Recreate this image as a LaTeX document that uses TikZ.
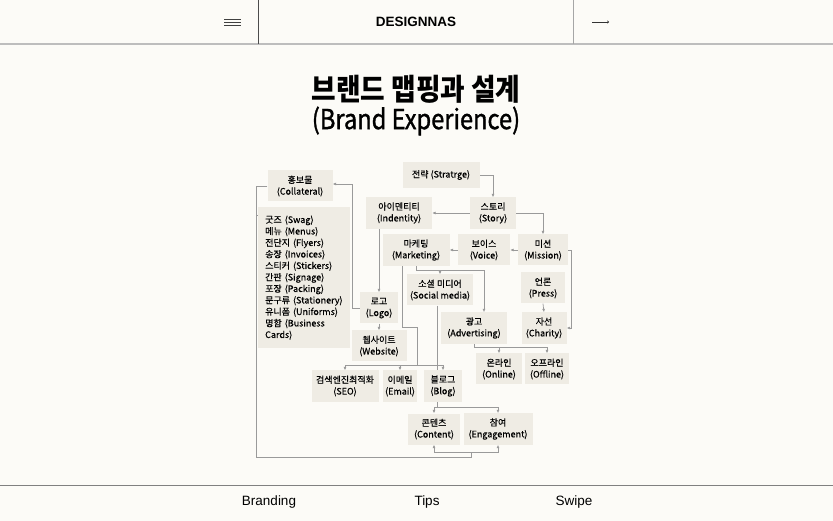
\documentclass[tikz,border=0pt]{standalone}
\usepackage{fontspec}
\setmainfont{Liberation Sans}
\newfontfamily\krfont[FakeBold=0.35]{Noto Sans CJK KR}
\newfontfamily\titlefont[FakeStretch=0.89]{Noto Sans CJK KR}
\newfontfamily\subfont[FakeStretch=0.86,FakeBold=1.2]{Noto Sans CJK KR}
\usetikzlibrary{arrows.meta,positioning,backgrounds}
\definecolor{colorpage}{HTML}{FCFBF7}
\definecolor{colorbox}{HTML}{EFECE4}
\definecolor{colorline}{HTML}{9A9A9A}
\definecolor{colorrule}{HTML}{BDBDBD}
\tikzset{mapbox/.style={fill=colorbox, align=center, inner xsep=2pt, inner ysep=5pt,
  minimum height=31pt, font=\krfont\fontsize{9}{11.5}\selectfont}}
\tikzset{listbox/.style={fill=colorbox, align=left, text width=78pt, inner xsep=7pt,
  inner ysep=6pt, minimum height=141pt, anchor=north west, font=\krfont\fontsize{9}{11.5}\selectfont}}
\tikzset{
  edgemap/.style={colorline, line width=0.7pt, -{Latex[length=3.4pt,width=3pt]}},
  linemap/.style={colorline, line width=0.7pt},
  footlabel/.style={font=\fontsize{13.5}{14}\selectfont}
}

\begin{document}
\begin{tikzpicture}[x=1pt,y=-1pt,inner sep=1pt]
\useasboundingbox (0,0) rectangle (833,521);

% header
\node[font=\bfseries\fontsize{13.5}{14}\selectfont] (brand) at (416,22) {DESIGNNAS};
\draw[colorrule, line width=1.5pt] (0,44) -- (833,44);
\draw[black!70, line width=0.8pt] (258,0) -- (258,44);
\draw[black!35, line width=1pt] (573,0) -- (573,44);
\foreach \y in {19.5,22.5,25.5}
  \draw[black!75, line width=0.9pt] (224,\y) -- (241,\y);
\draw[black!80, line width=0.6pt, -{To[length=2pt,width=3pt]}] (592,22) -- (609,22);

% title
\node[font=\titlefont\bfseries\fontsize{30}{30}\selectfont] (title) at (416,89) {브랜드 맵핑과 설계};
\node[font=\subfont\fontsize{27.5}{28}\selectfont] (subtitle) at (416,121) {(Brand Experience)};

% map
\node[mapbox, minimum width=65pt] (collateral) at (300,186) {홍보물\\(Collateral)};
\node[listbox] (swag) at (258,207) {굿즈 (Swag)\\메뉴 (Menus)\\전단지 (Flyers)\\송장 (Invoices)\\
  스티커 (Stickers)\\간판 (Signage)\\포장 (Packing)\\문구류 (Stationery)\\유니폼 (Uniforms)\\
  명함 (Business\\Cards)};

\node[mapbox, minimum width=77pt, minimum height=26pt] (strategy) at (441,175) {전략 (Stratrge)};
\node[mapbox, minimum width=46pt] (story) at (493,213) {스토리\\(Story)};
\node[mapbox, minimum width=66pt] (identity) at (399,213) {아이덴티티\\(Indentity)};
\node[mapbox, minimum width=67pt] (marketing) at (416,250) {마케팅\\(Marketing)};
\node[mapbox, minimum width=52pt] (voice) at (484,250) {보이스\\(Voice)};
\node[mapbox, minimum width=50pt] (mission) at (543,250) {미션\\(Mission)};
\node[mapbox, minimum width=66pt] (social) at (440,290) {소셜 미디어\\(Social media)};
\node[mapbox, minimum width=44pt] (press) at (543,288) {언론\\(Press)};
\node[mapbox, minimum width=38pt] (logo) at (379,308) {로고\\(Logo)};
\node[mapbox, minimum width=66pt] (advert) at (474,328) {광고\\(Advertising)};
\node[mapbox, minimum width=45pt] (charity) at (544,328) {자선\\(Charity)};
\node[mapbox, minimum width=55pt] (website) at (379,346) {웹사이트\\(Website)};
\node[mapbox, minimum width=46pt] (online) at (499,369) {온라인\\(Online)};
\node[mapbox, minimum width=44pt] (offline) at (547,369) {오프라인\\(Offline)};
\node[mapbox, minimum width=67pt] (seo) at (345,386) {검색엔진최적화\\(SEO)};
\node[mapbox, minimum width=34pt] (email) at (400,386) {이메일\\(Email)};
\node[mapbox, minimum width=38pt] (blog) at (443,386) {블로그\\(Blog)};
\node[mapbox, minimum width=52pt] (content) at (434,429) {콘텐츠\\(Content)};
\node[mapbox, minimum width=69pt] (engage) at (498,429) {참여\\(Engagement)};

\coordinate (webbus) at (417,365);
\coordinate (cbus) at (468,407);
\coordinate (lbus) at (471,452);
\coordinate (swagcorner) at (256,215);
\coordinate (swagin) at (264,215);
\coordinate (adbus) at (500,347);

\begin{scope}[on background layer]
\fill[colorpage] (0,0) rectangle (833,521);

\draw[edgemap] (strategy.east) -| (story.north);
\draw[edgemap] (story.west) -- (story.west -| identity.east);
\draw[edgemap] (story.east) -| (mission.north);
\draw[edgemap] (mission.west) -- (voice.east);
\draw[edgemap] (voice.west) -- (marketing.east);
\draw[edgemap] (mission.east) -- ++(3,0) |- (charity.east);
\draw[edgemap] (press.south) -- (charity.north);

\draw[edgemap] (marketing.south) -- ++(0,5) -| (social.north);
\draw[edgemap] (marketing.south) -- ++(0,5) -| ([xshift=10pt]advert.north);
\draw[linemap] ([xshift=-14pt]marketing.south) -- ++(0,62) -| (webbus);
\foreach \n in {seo,email,blog}
  \draw[edgemap] (webbus) -| (\n.north);

\draw[edgemap] (identity.south -| logo.north) -- (logo.north);
\draw[edgemap] (logo.south) -- (website.north);
\draw[edgemap] (logo.west) -- ++(-7,0) |- ([yshift=2pt]collateral.east);
\draw[edgemap] (collateral.west) -| (swagcorner) -- (swagin);

\draw[linemap] (advert.south) |- (adbus);
\draw[edgemap] (adbus) -| (online.north);
\draw[edgemap] (adbus) -| (offline.north);

\draw[linemap] ([xshift=-3pt]social.south) |- (cbus);
\draw[edgemap] (cbus) -| (content.north);
\draw[edgemap] (cbus) -| (engage.north);
\draw[edgemap] (lbus) -| (content.south);
\draw[edgemap] (lbus) -| (engage.south);
\draw[linemap] (lbus) -- ++(0,5) -| (swagcorner);
\end{scope}

% footer
\draw[black!50, line width=1pt] (0,485) -- (833,485);
\node[footlabel] (branding) at (269,502) {Branding};
\node[footlabel] (tips) at (427,502) {Tips};
\node[footlabel] (swipe) at (574,502) {Swipe};
\end{tikzpicture}
\end{document}
